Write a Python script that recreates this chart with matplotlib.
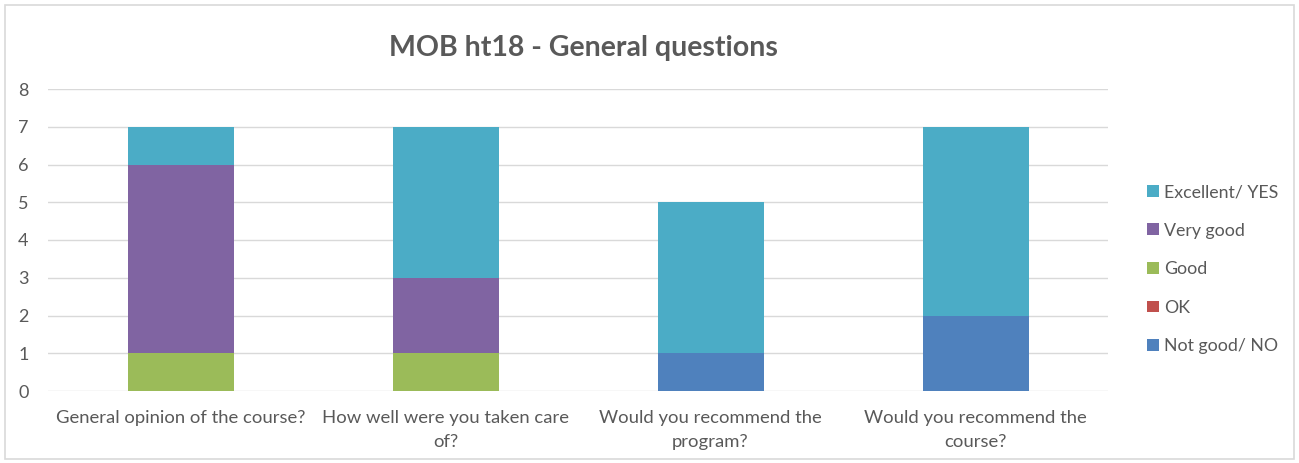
import matplotlib.pyplot as plt
from matplotlib.patches import Rectangle

categories = ["General opinion of the course?", "How well were you taken care\nof?",
              "Would you recommend the\nprogram?", "Would you recommend the\ncourse?"]
series_names = ["Not good/ NO", "OK", "Good", "Very good", "Excellent/ YES"]
not_good = [0, 0, 1, 2]
ok = [0, 0, 0, 0]
good = [1, 1, 0, 0]
very_good = [5, 2, 0, 0]
excellent = [1, 4, 4, 5]
colors = ["#4F81BD", "#C0504D", "#9BBB59", "#8064A2", "#4BACC6"]

plt.rcParams['font.family'] = ['Lato', 'DejaVu Sans']
text_color = "#595959"

fig = plt.figure(figsize=(12.99, 4.63), dpi=100)
ax = fig.add_axes([48/1299, 1 - 391/463, 1060/1299, 302/463])

x = range(len(categories))
bottom = [0] * len(categories)
handles = []
for name, vals, c in zip(series_names, [not_good, ok, good, very_good, excellent], colors):
    b = ax.bar(x, vals, width=0.4, bottom=bottom, color=c, label=name, zorder=3)
    handles.append(b)
    bottom = [bt + v for bt, v in zip(bottom, vals)]

ax.set_xlim(-0.5, 3.5)
ax.set_ylim(0, 8)
ax.set_yticks(range(0, 9))
ax.set_xticks(list(x))
ax.set_xticklabels(categories, fontsize=13.3, color=text_color, linespacing=1.55)
ax.tick_params(axis='y', labelsize=13, labelcolor=text_color, length=0, pad=14)
ax.tick_params(axis='x', length=0, pad=14)
ax.grid(axis='y', color="#D9D9D9", linewidth=1, zorder=0)
for s in ax.spines.values():
    s.set_visible(False)

fig.text(583/1299, 1 - 48/463, "MOB ht18 - General questions", ha='center', va='center',
         fontsize=20.5, fontweight='bold', color=text_color)

leg = fig.legend(handles[::-1], series_names[::-1], loc='upper left',
                 bbox_to_anchor=(1131/1299, 1 - 168/463), frameon=False,
                 fontsize=12.8, labelcolor=text_color, handlelength=0.65, handleheight=0.65,
                 handletextpad=0.3, labelspacing=1.27)

fig.patches.append(Rectangle((5/1299, 4/463), 1289/1299, 454/463, transform=fig.transFigure,
                             fill=False, edgecolor="#D9D9D9", linewidth=1.2))

fig.savefig("out.png", dpi=100)
